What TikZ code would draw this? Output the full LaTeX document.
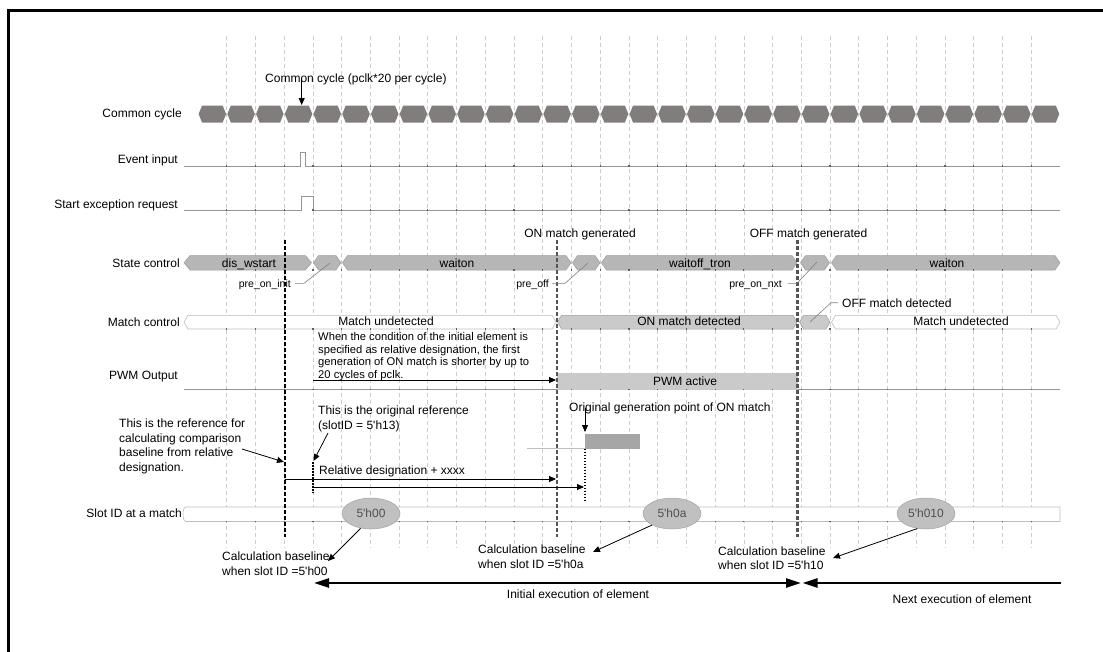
\documentclass[tikz,border=0pt]{standalone}
\usepackage{fontspec}
\setmainfont{Liberation Sans}[Ligatures=TeXOff]
\usetikzlibrary{arrows.meta,shapes.geometric}

\definecolor{cyclefill}{RGB}{130,125,125}
\definecolor{busfill}{RGB}{182,182,182}
\definecolor{busedge}{RGB}{158,158,158}
\definecolor{litefill}{RGB}{202,202,202}
\definecolor{whiteedge}{RGB}{190,190,190}
\definecolor{gridgray}{RGB}{205,205,205}
\definecolor{wavegray}{RGB}{150,150,150}
\definecolor{tickgray}{RGB}{95,95,95}
\definecolor{markgray}{RGB}{85,85,85}
\definecolor{slotfill}{RGB}{192,192,192}
\definecolor{slotedge}{RGB}{165,165,165}
\definecolor{slottext}{RGB}{80,80,80}
\definecolor{pulsefill}{RGB}{166,166,166}

% bus segment with pointed ends: x1, x2, top, bottom, taper, path options
\newcommand\busseg[6]{%
  \path[#6] ({#1},{(#3+#4)/2}) -- ({#1+#5},{#3}) -- ({#2-#5},{#3}) --
    ({#2},{(#3+#4)/2}) -- ({#2-#5},{#4}) -- ({#1+#5},{#4}) -- cycle;}

\begin{document}
\begin{tikzpicture}[x=1pt,y=-1pt,
  txt/.style={font=\fontsize{12}{14.5}\selectfont, inner sep=0pt, text height=8.6pt, text depth=0pt},
  small/.style={font=\fontsize{10.5}{12}\selectfont, inner sep=0pt, text height=7.5pt, text depth=0pt},
  block/.style={font=\fontsize{12}{14.6}\selectfont, inner sep=0pt, align=left, anchor=north west},
  noteblock/.style={font=\fontsize{11.2}{12.5}\selectfont, inner sep=0pt, align=left, anchor=north west},
  gridline/.style={draw=gridgray, line width=0.7, dash pattern=on 4pt off 3pt},
  wave/.style={draw=wavegray, line width=0.8},
  marker/.style={line width=2.4, dash pattern=on 4pt off 2pt},
  dotmark/.style={line width=1.4, dash pattern=on 1.5pt off 1.5pt},
  ptr/.style={-{Triangle[length=7pt,width=6pt]}, line width=0.8},
  leader/.style={draw=gray, line width=0.6},
  span/.style={line width=2.6},
  bus/.style={fill=busfill, draw=busedge, line width=0.5},
  litebus/.style={fill=litefill, draw=busedge, line width=0.5},
  openbus/.style={fill=white, draw=whiteedge, line width=0.6},
]
\useasboundingbox (0,0) rectangle (1103,651);

% frame
\draw[line width=3] (8,652) -- (8,10) -- (1104,10);

% time grid
\foreach \k in {1,...,29}{\draw[gridline] ({198+\k*28.73},36) -- ({198+\k*28.73},548);}

% common cycle
\node[txt, anchor=west] (cctitle) at (265,78) {Common cycle (pclk*20 per cycle)};
\foreach \k in {0,...,29}{\busseg{198+\k*28.73+0.6}{198+\k*28.73+28.13}{105.5}{122.5}{3.5}{fill=cyclefill}}
\coordinate (cc4) at (301.7,105);
\draw[ptr] (cctitle.center -| cc4) -- (cc4);

% row labels
\node[txt, anchor=east] (lcc) at (182,113.5) {Common cycle};
\node[txt, anchor=east] (lev) at (178,159) {Event input};
\node[txt, anchor=east] (lse) at (178,204) {Start exception request};
\node[txt, anchor=east] (lsc) at (180,263) {State control};
\node[txt, anchor=east] (lmc) at (180,322) {Match control};
\node[txt, anchor=east] (lpwm) at (178,375) {PWM Output};
\node[txt, anchor=east] (lslot) at (182,513) {Slot ID at a match};

% event input and start exception request
\draw[wave] (184,166) -- (300,166) -- (300,152) -- (305,152) -- (305,166) -- (1060,166);
\draw[wave] (184,210) -- (301.5,210) -- (301.5,196) -- (313,196) -- (313,210) -- (1060,210);

% state control
\busseg{184}{311.5}{255.5}{270}{6}{bus}
\busseg{313.5}{341}{255.5}{270}{5}{bus}
\busseg{342.5}{571}{255.5}{270}{5}{bus}
\busseg{572.5}{600}{255.5}{270}{5}{bus}
\busseg{601.5}{797}{255.5}{270}{5}{bus}
\busseg{800.5}{829.5}{255.5}{270}{5}{bus}
\busseg{831.5}{1060}{255.5}{270}{5}{bus}
\node[txt] (sdis) at (249,262.7) {dis\_wstart};
\node[txt] (swait1) at (457,262.7) {waiton};
\node[txt] (swoff) at (700,262.7) {waitoff\_tron};
\node[txt] (swait2) at (947,262.7) {waiton};

% match control
\busseg{184}{556}{315.3}{329}{4}{openbus}
\busseg{557.5}{797}{315.3}{329}{4}{litebus}
\busseg{799.5}{830}{315.3}{329}{4}{litebus}
\busseg{831.5}{1060}{315.3}{329}{4}{openbus}
\node[txt] (mund1) at (386,321.5) {Match undetected};
\node[txt] (mon) at (689,321.5) {ON match detected};
\node[txt] (mund2) at (961,321.5) {Match undetected};

% PWM output
\draw[wave] (184,389.3) -- (557,389.3);
\draw[wave] (798,389.3) -- (1060,389.3);
\fill[litefill] (557,372.7) rectangle (798,389.5);
\node[txt] (pwm) at (685,381) {PWM active};

% slot ID row
\draw[openbus] (186,507) -- (1060,507) -- (1060,521.5) -- (186,521.5) .. controls (182,521.5) and (182,507) .. (186,507) -- cycle;

% small marks where the grid meets the traces
\foreach \k in {1,...,29}{
  \foreach \yy in {166,210,270,329,389.3,521.5}{
    \fill[tickgray] ({198+\k*28.73-0.6},{\yy-0.6}) rectangle ({198+\k*28.73+0.6},{\yy+0.6});}}

\foreach \n/\x/\t in {s00/371/5'h00, s0a/672/5'h0a, s10/926/5'h010}{
  \node[ellipse, minimum width=58pt, minimum height=31pt, inner sep=0pt, fill=slotfill, draw=slotedge, line width=0.5,
        font=\fontsize{12}{14}\selectfont, text=slottext] (\n) at (\x,513.5) {\t};}

% original generation of ON match
\fill[pulsefill] (585,433.5) rectangle (640,448.5);
\draw[wave, draw=whiteedge] (527,448.5) -- (585,448.5);

% reference markers
\draw[marker] (285,240) -- (285,537);
\draw[marker, draw=markgray] (557,240) -- (557,537);
\draw[marker, draw=markgray] (797.5,240) -- (797.5,537);
\draw[dotmark] (313,462) -- (313,493);
\draw[dotmark] (585,448.5) -- (585,500);

\node[txt] (onGen) at (580,233.3) {ON match generated};
\node[txt] (offGen) at (808.5,233.3) {OFF match generated};

% state names with leaders
\node[small, anchor=east] (pinit) at (291,283.3) {pre\_on\_init};
\node[small, anchor=east] (poff) at (549,283.3) {pre\_off};
\node[small, anchor=east] (pnxt) at (782,283.3) {pre\_on\_nxt};
\coordinate (hinit) at (330,263);
\coordinate (hoff) at (588,263);
\coordinate (hnxt) at (817,262);
\draw[leader] (pinit.east) ++(4,0) -- ++(9,0) -- (hinit);
\draw[leader] (poff.east) ++(3,0) -- ++(13,0) -- (hoff);
\draw[leader] (pnxt.east) ++(6,0) -- ++(9,0) -- (hnxt);
\node[txt, anchor=west] (offDet) at (842,302.7) {OFF match detected};
\coordinate (hoffdet) at (810,322);
\draw[leader] (offDet.west) ++(-4,0) -- ++(-7,0) -- (hoffdet);

% note on shortened first ON match
\node[noteblock] (note) at (318,332.5) {When the condition of the initial element is\\specified as relative designation, the first\\generation of ON match is shorter by up to\\20 cycles of pclk.};
\coordinate (noteA) at (313,380);
\coordinate (noteB) at (556,380);
\draw[ptr] (noteA) -- (noteB);

% references and relative designation
\node[txt, anchor=west] (ogen) at (569,407.5) {Original generation point of ON match};
\coordinate (ogenT) at (585,432);
\draw[ptr] (ogen.center -| ogenT) -- (ogenT);

\node[block] (origref) at (318,405.5) {This is the original reference\\(slotID = 5'h13)};
\coordinate (origT) at (313.5,461);
\draw[ptr] (328,433) -- (origT);

\node[block] (baseref) at (119,418.5) {This is the reference for\\calculating comparison\\baseline from relative\\designation.};
\coordinate (baseT) at (284,462);
\draw[ptr] (242,449) -- (baseT);

\node[txt, anchor=west] (reldes) at (319,470) {Relative designation + xxxx};
\coordinate (r1a) at (285,479);
\coordinate (r1b) at (556,479);
\coordinate (r2a) at (313,487);
\coordinate (r2b) at (584,487);
\draw[ptr] (r1a) -- (r1b);
\draw[ptr] (r2a) -- (r2b);

% calculation baselines
\node[block] (cb00) at (222,551.5) {Calculation baseline\\when slot ID =5'h00};
\node[block] (cb0a) at (478,544.5) {Calculation baseline\\when slot ID =5'h0a};
\node[block] (cb10) at (718,546.2) {Calculation baseline\\when slot ID =5'h10};
\draw[ptr] (s00.-125) -- (328,561);
\draw[ptr] (s0a.-150) -- (593,552);
\draw[ptr] (s10.-120) -- (833,558);

% execution spans
\coordinate (e0) at (314,583);
\coordinate (e1) at (801,583);
\coordinate (e2) at (802.5,583);
\coordinate (e3) at (1061,583);
\draw[span, {Triangle[length=15pt,width=9pt]}-{Triangle[length=15pt,width=9pt]}] (e0) -- (e1);
\draw[span, {Triangle[length=15pt,width=9pt]}-] (e2) -- (e3);
\node[txt] (initExec) at (578,594) {Initial execution of element};
\node[txt] (nextExec) at (962,599) {Next execution of element};
\end{tikzpicture}
\end{document}
